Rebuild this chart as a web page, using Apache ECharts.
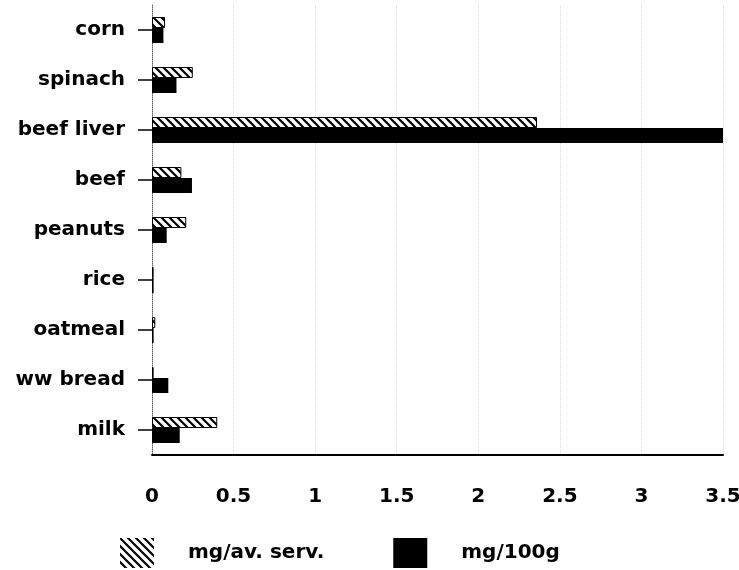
<!DOCTYPE html>
<html>
<head>
<meta charset="utf-8">
<script src="https://cdn.jsdelivr.net/npm/echarts@6/dist/echarts.min.js"></script>
<style>
  html, body { margin: 0; padding: 0; background: #fff; }
  #chart { width: 739px; height: 570px; }
</style>
</head>
<body>
<div id="chart"></div>
<script>
const foods = ['corn', 'spinach', 'beef liver', 'beef', 'peanuts', 'rice', 'oatmeal', 'ww bread', 'milk']
const perServing = [0.08, 0.25, 2.36, 0.18, 0.21, 0.01, 0.02, 0.01, 0.40]
const per100g = [0.07, 0.15, 3.5, 0.245, 0.09, 0.01, 0.01, 0.1, 0.17]
const xTicks = [0, 0.5, 1, 1.5, 2, 2.5, 3, 3.5]

// diagonal hatch pattern
function makeHatch() {
  const s = 8
  const c = document.createElement('canvas')
  c.width = s
  c.height = s
  const ctx = c.getContext('2d')
  ctx.fillStyle = '#fff'
  ctx.fillRect(0, 0, s, s)
  ctx.strokeStyle = '#000'
  ctx.lineWidth = 2.2
  ctx.beginPath()
  ctx.moveTo(-1, -1)
  ctx.lineTo(s + 1, s + 1)
  ctx.moveTo(-2, s - 2)
  ctx.lineTo(2, s + 2)
  ctx.moveTo(s - 2, -2)
  ctx.lineTo(s + 2, 2)
  ctx.stroke()
  return c
}

const labelFont = {
  color: '#000',
  fontFamily: 'DejaVu Sans, sans-serif',
  fontWeight: 'bold',
  fontSize: 20
}

const hatch = makeHatch()

const chart = echarts.init(document.getElementById('chart'))
chart.setOption({
  backgroundColor: '#fff',
  animation: false,
  grid: {
    left: 152,
    right: 16,
    top: 5,
    bottom: 115,
    outerBoundsMode: 'none'
  },
  legend: {
    top: 538,
    left: 120,
    padding: 0,
    icon: 'rect',
    itemWidth: 34,
    itemHeight: 30,
    itemGap: 69,
    textStyle: Object.assign({}, labelFont, { padding: [0, 0, 0, 29] }),
    data: [
      { name: 'mg/av. serv.', itemStyle: { borderWidth: 0 } },
      { name: 'mg/100g' }
    ]
  },
  xAxis: {
    type: 'value',
    min: 0,
    max: 3.5,
    interval: 0.5,
    axisLine: { show: true, lineStyle: { color: '#000', width: 2 } },
    axisTick: { show: false },
    splitLine: { show: true, lineStyle: { color: '#ddd', type: 'dotted', width: 1 } },
    axisLabel: Object.assign({}, labelFont, {
      margin: 32,
      formatter: v => xTicks.indexOf(v) >= 0 ? String(v) : ''
    })
  },
  yAxis: {
    type: 'category',
    inverse: true,
    data: foods,
    axisLine: { show: true, lineStyle: { color: '#666', type: 'dotted', width: 1 } },
    axisTick: { show: true, alignWithLabel: true, length: 14, lineStyle: { color: '#000', width: 1.5 } },
    axisLabel: Object.assign({}, labelFont, { margin: 27 })
  },
  series: [
    {
      name: 'mg/av. serv.',
      type: 'bar',
      data: perServing,
      barWidth: 11,
      barGap: '0%',
      itemStyle: {
        color: { image: hatch, repeat: 'repeat' },
        borderColor: '#000',
        borderWidth: 1
      }
    },
    {
      name: 'mg/100g',
      type: 'bar',
      data: per100g,
      barWidth: 15,
      itemStyle: { color: '#000' }
    }
  ]
})
</script>
</body>
</html>
